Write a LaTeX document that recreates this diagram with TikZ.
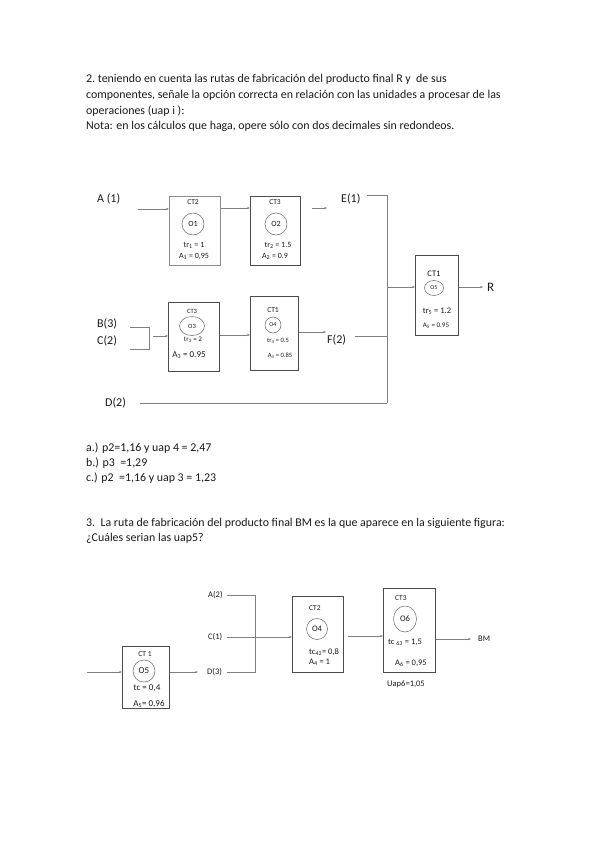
\documentclass[tikz,border=0pt]{standalone}
\usepackage{fontspec}
\setmainfont{Carlito}
\usetikzlibrary{arrows.meta,shapes.geometric}
\newcommand{\fs}[1]{\fontsize{#1}{#1}\selectfont}
\begin{document}
\begin{tikzpicture}[x=1pt,y=-1pt,
  every node/.style={inner sep=0pt, text=black!90},
  body/.style={anchor=base west, font=\fs{11.9}},
  big/.style={anchor=west, font=\fs{12}},
  mid/.style={anchor=west, font=\fs{8.5}},
  box/.style={draw=black!70, line width=0.7pt, anchor=north west},
  circ/.style={draw=black!60, line width=0.5pt, circle},
  ell/.style={draw=black!60, line width=0.5pt, ellipse},
  ln/.style={draw=black!50, line width=0.6pt},
  arr/.style={ln, -{Stealth[length=3pt,width=2.4pt]}}]
\useasboundingbox (0,0) rectangle (599,848);
% ---------- question 2 text
\node[body] (t1) at (86,83) {2.\ teniendo en cuenta las rutas de fabricación del producto final R y\ \ de sus};
\node[body] (t2) at (86,98.5) {componentes, señale la opción correcta en relación con las unidades a procesar de las};
\node[body] (t3) at (86,114) {operaciones (uap i ):};
\node[body] (t4) at (86,129.5) {Nota: en los cálculos que haga, opere sólo con dos decimales sin redondeos.};
% ---------- diagram 1, upper row
\node[big] (A1) at (97,199) {A (1)};
\node[box, draw=black!45, minimum width=51, minimum height=69] (ct2) at (169,196) {};
\node[font=\fs{7.5}] (ct2l) at (193,202) {CT2};
\node[circ, minimum size=22, font=\fs{8}] (o1) at (193,224) {O1};
\node[font=\fs{8}] (tr1) at (194,245) {tr\textsubscript{1} = 1};
\node[font=\fs{8}] (a1) at (194,256) {A\textsubscript{1} = 0,95};
\node[box, minimum width=50, minimum height=69] (ct3) at (250,196) {};
\node[font=\fs{7.5}] (ct3l) at (275,202) {CT3};
\node[circ, minimum size=22, font=\fs{8}] (o2) at (276,224) {O2};
\node[font=\fs{8}] (tr2) at (278,245) {tr\textsubscript{2} = 1.5};
\node[font=\fs{8}] (a2) at (275,256) {A\textsubscript{2} = 0.9};
\node[big] (E1) at (341,199) {E(1)};
\coordinate (a1s) at (138,209);
\coordinate (r1) at (0,208);
\coordinate (e1s) at (312,208);
\coordinate (e1e) at (327,208);
\draw[arr] (a1s) -- (a1s -| ct2.west);
\draw[arr] (ct2.east |- r1) -- (ct3.west |- r1);
\draw[arr] (e1s) -- (e1e);
% ---------- diagram 1, right box
\node[box, minimum width=43, minimum height=80] (ct1) at (415,255) {};
\node[font=\fs{8.5}] (ct1l) at (434,274) {CT1};
\node[ell, minimum width=19, minimum height=15, font=\fs{6}] (o5) at (434,288) {O5};
\node[font=\fs{8.5}] (tr5) at (437,311) {tr\textsubscript{5} = 1.2};
\node[font=\fs{7}] (a5) at (436,326) {A\textsubscript{5} = 0.95};
\node[anchor=west, font=\fs{13}] (R) at (487,287) {R};
% ---------- diagram 1, lower row
\node[big] (B3) at (97,324) {B(3)};
\node[big] (C2) at (97,341) {C(2)};
\node[box, minimum width=51, minimum height=69] (ct3b) at (168,302) {};
\node[font=\fs{6.5}] (ct3bl) at (192,311) {CT3};
\node[ell, minimum width=25, minimum height=19, font=\fs{6.5}] (o3) at (192,326) {O3};
\node[font=\fs{7}] (tr3) at (193,340) {tr\textsubscript{3} = 2};
\node[font=\fs{9}] (a3) at (189,355) {A\textsubscript{3} = 0.95};
\node[box, minimum width=48, minimum height=74] (ct1b) at (250,296) {};
\node[font=\fs{7.5}] (ct1bl) at (273,310) {CT1};
\node[circ, minimum size=16, font=\fs{6}] (o4) at (273,325) {O4};
\node[font=\fs{6.5}] (tr4) at (278,341) {tr\textsubscript{4} = 0.5};
\node[font=\fs{6.5}] (a4) at (280,356) {A\textsubscript{4} = 0.85};
\node[big] (F2) at (327,340) {F(2)};
\node[big] (D2) at (105,403) {D(2)};
\coordinate (bs) at (130,327);
\coordinate (bk) at (149,327);
\coordinate (ck) at (149,349);
\coordinate (cs) at (130,349);
\coordinate (bca) at (153,336);
\coordinate (r2) at (0,335);
\coordinate (r3) at (0,332);
\coordinate (f2e) at (326,332);
\draw[ln] (bs) -- (bk) -- (ck) -- (cs);
\draw[arr] (bca) -- (bca -| ct3b.west);
\draw[arr] (ct3b.east |- r2) -- (ct1b.west |- r2);
\draw[arr] (ct1b.east |- r3) -- (f2e);
% ---------- collector
\coordinate (ej) at (367,195);
\coordinate (ev) at (387,195);
\coordinate (fj) at (355,336);
\coordinate (fv) at (387,336);
\coordinate (dj) at (140,403);
\coordinate (dv) at (387,403);
\coordinate (rin) at (387,287);
\coordinate (rout) at (483,287);
\draw[ln] (ej) -- (ev) -- (dv);
\draw[ln] (fj) -- (fv);
\draw[ln] (dj) -- (dv);
\draw[arr] (rin) -- (rin -| ct1.west);
\draw[arr] (ct1.east |- rin) -- (rout);
% ---------- answers
\node[body] (ra) at (86,451) {a.) p2=1,16 y uap 4 = 2,47};
\node[body] (rb) at (86,466) {b.) p3\ \ =1,29};
\node[body] (rc) at (86,481) {c.) p2\ \ =1,16 y uap 3 = 1,23};
% ---------- question 3 text
\node[body] (q1) at (86,526) {3.\ \ La ruta de fabricación del producto final BM\ es la que aparece en la siguiente figura:};
\node[body] (q2) at (86,541) {¿Cuáles serian las uap5?};
% ---------- diagram 2
\node[box, minimum width=47, minimum height=62] (b21) at (122,646) {};
\node[font=\fs{7.5}] (b21l) at (145,654) {CT 1};
\node[circ, minimum size=22, font=\fs{9}] (o5b) at (144,671) {O5};
\node[font=\fs{9}] (tcb) at (147,688) {tc = 0,4};
\node[font=\fs{9}] (a5b) at (149,704) {A\textsubscript{5}= 0,96};
\node[mid] (A2) at (208,595) {A(2)};
\node[mid] (C1) at (208,637) {C(1)};
\node[mid] (D3) at (207,672) {D(3)};
\node[box, minimum width=51, minimum height=76] (b22) at (292,596) {};
\node[anchor=west, font=\fs{7.5}] (b22l) at (309,608) {CT2};
\node[circ, minimum size=21, font=\fs{8.5}] (o4b) at (317,629) {O4};
\node[anchor=west, font=\fs{8.5}] (tc42) at (309,652) {tc\textsubscript{42}= 0,8};
\node[anchor=west, font=\fs{8.5}] (a4b) at (309,662) {A\textsubscript{4} = 1};
\node[box, minimum width=52, minimum height=84] (b23) at (383,588) {};
\node[anchor=west, font=\fs{7.5}] (b23l) at (395,598) {CT3};
\node[ell, minimum width=23, minimum height=26, font=\fs{8.5}] (o6) at (405,619) {O6};
\node[anchor=west, font=\fs{8.5}] (tc63) at (388,642) {tc \textsubscript{63} = 1,5};
\node[anchor=west, font=\fs{8.5}] (a6) at (395,663) {A\textsubscript{6} = 0,95};
\node[font=\fs{8.5}] (uap6) at (406,684) {Uap6=1,05};
\node[mid] (BM) at (478,639) {BM};
\coordinate (in2) at (87,672);
\coordinate (d3e) at (198,672);
\coordinate (aj) at (227,595);
\coordinate (av) at (255,595);
\coordinate (dj2) at (227,672);
\coordinate (dv2) at (255,672);
\coordinate (cj) at (227,637);
\coordinate (o4s) at (348,636);
\coordinate (r5) at (0,639);
\coordinate (bme) at (471,639);
\draw[arr] (in2) -- (in2 -| b21.west);
\draw[arr] (b21.east |- in2) -- (d3e);
\draw[ln] (aj) -- (av) -- (dv2) -- (dj2);
\draw[arr] (cj) -- (cj -| b22.west);
\draw[arr] (o4s) -- (o4s -| b23.west);
\draw[arr] (b23.east |- r5) -- (bme);
\end{tikzpicture}
\end{document}
